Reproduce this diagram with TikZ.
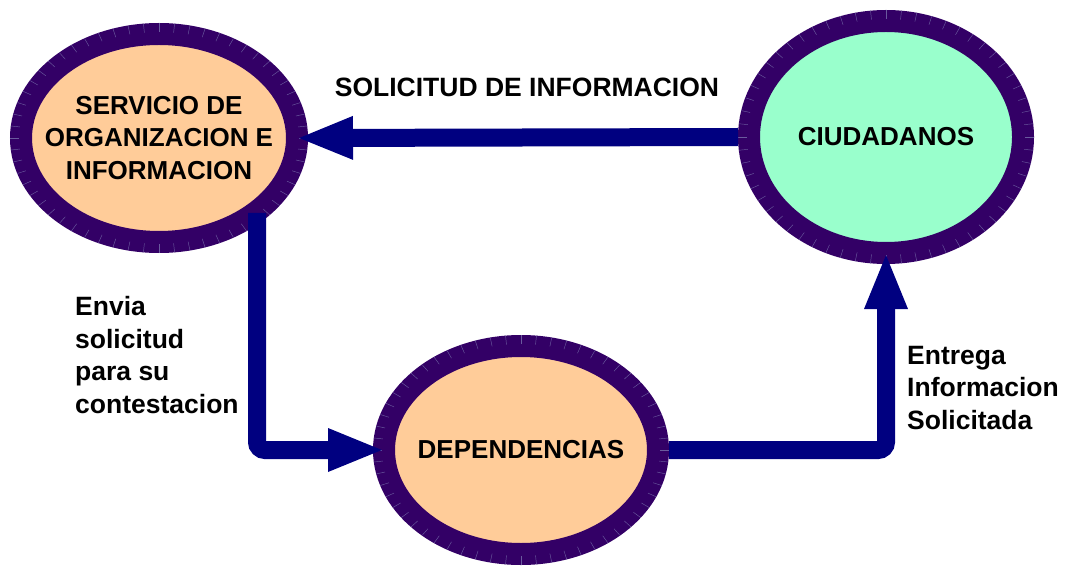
\documentclass[tikz,border=0pt]{standalone}
\usepackage{fontspec}
\setmainfont{Liberation Sans}
\usetikzlibrary{shapes.geometric,arrows.meta,calc}
\definecolor{ringc}{HTML}{330066}
\definecolor{tickc}{HTML}{6A5A9E}
\definecolor{peach}{HTML}{FFCC99}
\definecolor{mint}{HTML}{99FFCC}
\definecolor{arrowc}{HTML}{000080}
\tikzset{
  bubble/.style={ellipse, draw=ringc, line width=22pt, inner sep=0pt},
  btext/.style={align=center, inner sep=0pt, font=\bfseries\fontsize{26}{32.5}\selectfont},
  tickline/.style={draw=tickc, line width=0.45pt},
  flow/.style={draw=arrowc, line width=18pt, rounded corners=8pt, shorten >=-12pt,
    -{Triangle[length=57pt,width=39pt]}},
  lbl/.style={font=\bfseries\fontsize{26.5}{32.5}\selectfont, inner sep=0pt}
}
\newcommand{\ringticks}[3]{%
  \begin{scope}[shift={(#1.center)}]
    \foreach \t in {0,6,...,354}
      \draw[tickline] ({(#2+2)*cos(\t)},{(#3+2)*sin(\t)}) -- ({(#2+11)*cos(\t)},{(#3+11)*sin(\t)});
  \end{scope}}
\begin{document}
\begin{tikzpicture}[x=1pt,y=-1pt]
\useasboundingbox (0,0) rectangle (1067,569);
\node[bubble, fill=peach, minimum width=276pt, minimum height=208pt] (s) at (159,138) {};
\node[bubble, fill=mint, minimum width=274pt, minimum height=232pt] (c) at (886,137) {};
\node[bubble, fill=peach, minimum width=274pt, minimum height=208pt] (d) at (521,450) {};
\ringticks{s}{138}{104}
\ringticks{c}{137}{116}
\ringticks{d}{137}{104}
\node[btext] (st) at (s.center) {SERVICIO DE\\ORGANIZACION E\\INFORMACION};
\node[btext] (ct) at (c.center) {CIUDADANOS};
\node[btext] (dt) at (d.center) {DEPENDENCIAS};
\coordinate (s1) at ($(s.center)+(98,75)$);
\draw[flow] (c.west) -- (s.east);
\draw[flow] (s1) |- (d.west);
\draw[flow] (d.east) -| (c.south);
\node[lbl] (t1) at (527,87) {SOLICITUD DE INFORMACION};
\node[lbl, anchor=west, align=left] (t2) at (75,355) {Envia\\solicitud\\para su\\contestacion};
\node[lbl, anchor=west, align=left] (t3) at (907,388) {Entrega\\Informacion\\Solicitada};
\end{tikzpicture}
\end{document}
